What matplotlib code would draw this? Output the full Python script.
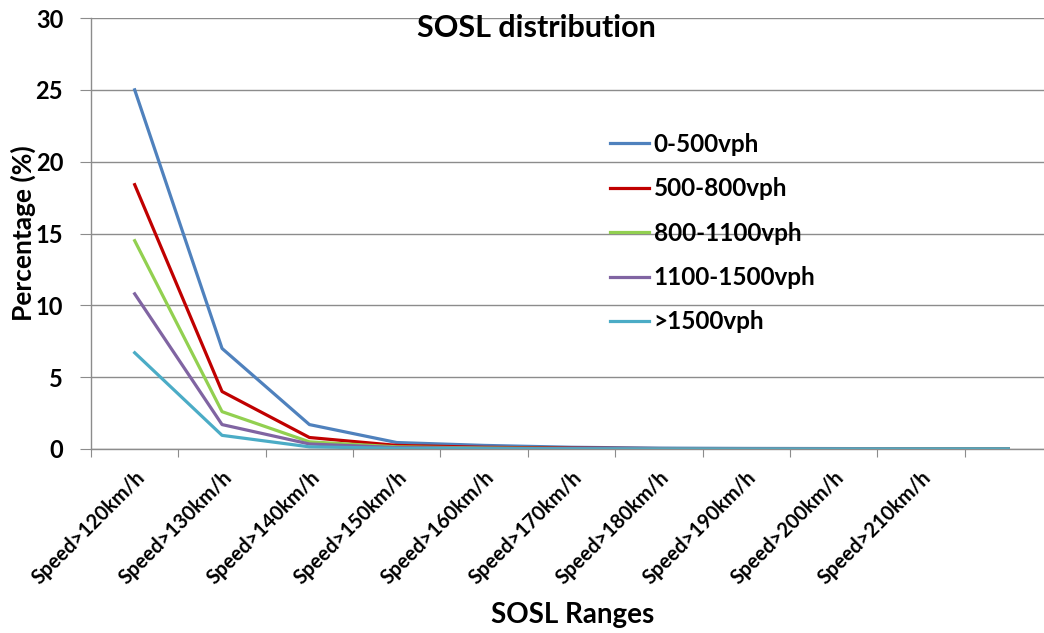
import matplotlib
matplotlib.use("Agg")
import matplotlib.pyplot as plt
from matplotlib.ticker import FixedLocator, NullFormatter, FixedFormatter

categories = ["Speed>120km/h", "Speed>130km/h", "Speed>140km/h", "Speed>150km/h",
              "Speed>160km/h", "Speed>170km/h", "Speed>180km/h", "Speed>190km/h",
              "Speed>200km/h", "Speed>210km/h", ""]
s_0_500 = [25.0, 7.0, 1.7, 0.45, 0.25, 0.12, 0.06, 0.04, 0.03, 0.02, 0.02]
s_500_800 = [18.4, 4.0, 0.8, 0.25, 0.12, 0.06, 0.03, 0.02, 0.02, 0.01, 0.01]
s_800_1100 = [14.5, 2.6, 0.5, 0.15, 0.07, 0.03, 0.02, 0.01, 0.01, 0.01, 0.01]
s_1100_1500 = [10.8, 1.7, 0.35, 0.1, 0.05, 0.02, 0.01, 0.01, 0.01, 0.0, 0.0]
s_1500 = [6.7, 0.95, 0.15, 0.05, 0.02, 0.01, 0.0, 0.0, 0.0, 0.0, 0.0]
series = [("0-500vph", s_0_500, "#4F81BD"),
          ("500-800vph", s_500_800, "#C00000"),
          ("800-1100vph", s_800_1100, "#92D050"),
          ("1100-1500vph", s_1100_1500, "#8064A2"),
          (">1500vph", s_1500, "#4BACC6")]
yticks = [0, 5, 10, 15, 20, 25, 30]

plt.rcParams['font.family'] = ['Lato', 'DejaVu Sans']

W, H = 1044, 633
fig = plt.figure(figsize=(W / 100, H / 100), dpi=100)
ax = fig.add_axes([91 / W, 184 / H, 961 / W, 431 / H])

x = list(range(len(categories)))
for name, vals, col in series:
    ax.plot(x, vals, color=col, lw=2.3, label=name)

ax.set_xlim(-0.5, len(categories) - 0.5)
ax.set_ylim(0, 30)
ax.set_yticks(yticks)
ax.set_yticklabels([str(v) for v in yticks], fontsize=17, fontweight='bold')
ax.yaxis.grid(True, color='#8c8c8c', lw=1)
ax.set_axisbelow(True)

# category boundaries as major ticks, labels on minor ticks
ax.xaxis.set_major_locator(FixedLocator([i - 0.5 for i in range(len(categories) + 1)]))
ax.xaxis.set_major_formatter(NullFormatter())
ax.xaxis.set_minor_locator(FixedLocator(x))
ax.xaxis.set_minor_formatter(FixedFormatter(categories))
ax.tick_params(axis='x', which='minor', length=0, pad=13)
ax.tick_params(axis='x', which='major', length=6, color='#8c8c8c', direction='out')
ax.tick_params(axis='y', length=8, color='#8c8c8c', direction='out', pad=12)
for lab in ax.xaxis.get_minorticklabels():
    lab.set_rotation(45)
    lab.set_ha('right')
    lab.set_va('top')
    lab.set_rotation_mode('anchor')
    lab.set_fontsize(14.5)
    lab.set_fontweight('bold')

for sp in ['top', 'right']:
    ax.spines[sp].set_visible(False)
for sp in ['left', 'bottom']:
    ax.spines[sp].set_color('#8c8c8c')
    ax.spines[sp].set_linewidth(1)

fig.text(23 / W, 1 - 233 / H, "Percentage (%)", fontsize=19, fontweight='bold',
         rotation=90, ha='center', va='center')
fig.text(573 / W, 1 - 623 / H, "SOSL Ranges", fontsize=20, fontweight='bold',
         ha='center', va='baseline')
fig.text(536 / W, 1 - 37 / H, "SOSL distribution", fontsize=22, fontweight='bold',
         ha='center', va='baseline')

leg = ax.legend(loc='upper left', bbox_to_anchor=(588 / W, 1 - 111 / H),
                bbox_transform=fig.transFigure, frameon=False,
                prop={'size': 17.5, 'weight': 'bold'}, handlelength=1.6,
                handletextpad=0.2, labelspacing=0.88)

fig.savefig("out.png", dpi=100)
